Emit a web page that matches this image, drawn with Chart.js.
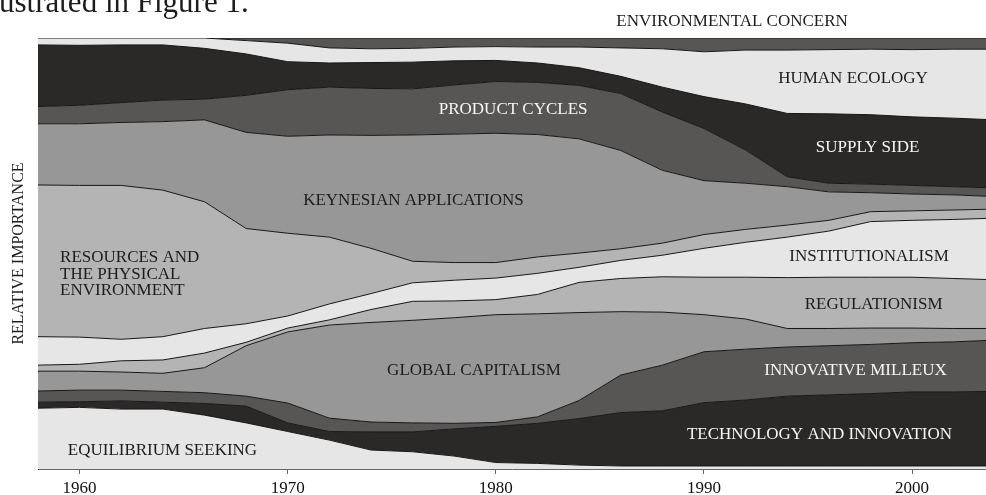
<!DOCTYPE html>
<html><head><meta charset="utf-8">
<script src="https://cdn.jsdelivr.net/npm/chart.js@4.4.1/dist/chart.umd.min.js"></script>
<style>
html,body{margin:0;padding:0;background:#fff;overflow:hidden}
#wrap{position:relative;width:986px;height:495px}
</style>
</head><body>
<div id="wrap"><canvas id="c" width="986" height="495"></canvas></div>
<script>
// ---------------- DATA (relative importance, % of total, bottom layer first) ----------------
const years = [1958,1960,1962,1964,1966,1968,1970,1972,1974,1976,1978,1980,1982,1984,1986,1988,1990,1992,1994,1996,1998,2000,2002,2004];

const equilibriumSeeking      = [14.1,14.3,13.9,13.9,12.5,10.7,8.7,6.7,4.4,4.0,3.0,1.5,1.3,0.9,0.7,0.7,0.7,0.7,0.7,0.7,0.7,0.7,0.7,0.7];
const technologyInnovation    = [1.4,1.3,1.9,1.6,2.7,3.9,2.0,2.0,4.2,4.6,6.3,8.4,9.3,10.8,12.4,12.8,14.7,15.3,16.2,16.5,16.8,17.2,17.2,17.3];
const innovativeMilieux       = [2.6,2.7,2.5,2.5,2.5,2.3,4.6,3.1,2.3,2.1,1.3,0.9,1.5,4.2,8.7,10.6,11.8,11.8,11.4,11.4,11.4,11.4,11.6,11.9];
const globalCapitalism        = [4.6,4.4,4.2,4.2,5.8,11.7,16.5,21.6,23.1,23.8,24.5,25.0,23.9,20.4,14.7,12.3,8.6,7.0,4.3,4.0,3.8,3.4,3.1,2.7];
const regulationism           = [1.4,1.6,2.6,3.1,3.4,0.8,0.9,1.2,3.0,4.4,3.9,3.5,4.5,7.0,7.7,8.2,8.7,9.7,11.8,11.9,11.8,11.8,11.6,11.3];
const institutionalism        = [6.6,6.3,5.0,5.4,5.7,4.3,2.8,3.7,3.7,4.3,4.8,5.0,4.9,3.5,4.2,5.0,6.7,8.1,9.4,10.7,12.9,13.2,13.7,14.3];
const resourcesPhysicalEnv    = [35.2,35.2,35.7,34.0,29.4,22.1,19.2,15.5,10.5,5.0,4.1,3.6,3.8,3.3,2.7,2.8,3.2,3.0,2.8,2.5,2.3,2.2,2.2,2.1];
const keynesianApplications   = [14.2,14.3,14.6,15.9,19.0,22.3,22.5,23.7,26.2,29.3,29.8,30.0,28.4,26.5,22.8,16.9,12.5,10.7,8.9,6.6,4.4,3.9,3.5,2.9];
const productCycles           = [4.0,4.3,4.6,5.0,4.8,8.6,10.8,11.1,10.9,10.7,11.4,12.0,12.1,12.4,13.2,13.5,12.1,7.7,2.3,2.0,2.0,2.0,1.9,2.0];
const supplySide              = [14.3,13.9,13.4,12.8,11.8,9.6,6.5,5.6,6.0,6.2,5.6,4.9,4.5,4.1,4.0,5.8,7.4,10.7,14.7,16.1,16.1,15.9,15.9,15.8];
const humanEcology            = [1.6,1.7,1.6,1.6,2.4,3.1,4.3,3.5,3.2,3.2,3.2,3.2,3.7,4.8,6.6,8.9,10.4,12.5,14.7,14.9,15.2,15.6,16.0,16.4];
const environmentalConcern    = [0,0,0,0,0,0.6,1.2,2.3,2.5,2.4,2.1,2.0,2.1,2.1,2.3,2.5,3.2,2.8,2.8,2.7,2.6,2.7,2.6,2.6];

const seriesNames = ['EQUILIBRIUM SEEKING','TECHNOLOGY AND INNOVATION','INNOVATIVE MILLEUX','GLOBAL CAPITALISM','REGULATIONISM','INSTITUTIONALISM','RESOURCES AND THE PHYSICAL ENVIRONMENT','KEYNESIAN APPLICATIONS','PRODUCT CYCLES','SUPPLY SIDE','HUMAN ECOLOGY','ENVIRONMENTAL CONCERN'];
const seriesValues = [equilibriumSeeking,technologyInnovation,innovativeMilieux,globalCapitalism,regulationism,institutionalism,resourcesPhysicalEnv,keynesianApplications,productCycles,supplySide,humanEcology,environmentalConcern];

const tickYears = [1960,1970,1980,1990,2000];
const tickLabels = ['1960','1970','1980','1990','2000'];
const yAxisTitle = 'RELATIVE IMPORTANCE';

// ---------------- STYLE ----------------
const LIGHT = '#e6e6e6', LGRAY = '#b4b4b4', MGRAY = '#979797', DGRAY = '#585655', BLACK = '#2b2828';
const fillColors = [LIGHT, BLACK, DGRAY, MGRAY, LGRAY, LIGHT, LGRAY, MGRAY, DGRAY, BLACK, LIGHT, DGRAY];

// label anchors (year, % position) and text colour
const areaLabels = [
  {lines:['HUMAN ECOLOGY'], year:1997.16, value:90.5, light:false},
  {lines:['SUPPLY SIDE'], year:1997.86, value:74.5, light:true},
  {lines:['PRODUCT CYCLES'], year:1980.83, value:83.5, light:true},
  {lines:['KEYNESIAN APPLICATIONS'], year:1976.04, value:62.2, light:false},
  {lines:['INSTITUTIONALISM'], year:1997.93, value:49.3, light:false},
  {lines:['REGULATIONISM'], year:1998.15, value:38.1, light:false},
  {lines:['INNOVATIVE MILLEUX'], year:1997.28, value:22.9, light:true},
  {lines:['TECHNOLOGY AND INNOVATION'], year:1995.55, value:8.1, light:true},
  {lines:['GLOBAL CAPITALISM'], year:1978.95, value:22.9, light:false},
  {lines:['EQUILIBRIUM SEEKING'], year:1963.98, value:4.4, light:false},
  {lines:['RESOURCES AND','THE PHYSICAL','ENVIRONMENT'], year:1959.06, value:49.1, light:false, align:'left'}
];

const SERIF = "'Liberation Serif','Times New Roman',serif";

const labelPlugin = {
  id: 'labels',
  afterDraw(chart) {
    const {ctx, chartArea, scales:{x, y}} = chart;
    ctx.save();
    ctx.font = '17px ' + SERIF;
    ctx.textBaseline = 'middle';
    for (const l of areaLabels) {
      ctx.fillStyle = l.light ? '#f6f6f6' : '#1c1c1c';
      ctx.textAlign = l.align || 'center';
      const px = x.getPixelForValue(l.year), py = y.getPixelForValue(l.value);
      l.lines.forEach((t, i) => ctx.fillText(t, px, py + i * 16.8));
    }
    // label of the top layer, above the plot
    ctx.fillStyle = '#1c1c1c';
    ctx.textAlign = 'center';
    ctx.fillText('ENVIRONMENTAL CONCERN', x.getPixelForValue(1991.35), chartArea.top - 16);
    // fragment of the surrounding document text (cut by the crop)
    ctx.font = '31px ' + SERIF;
    ctx.textAlign = 'left';
    ctx.textBaseline = 'alphabetic';
    ctx.fillText('ustrated in Figure 1.', -1, 11.7);
    ctx.restore();
  }
};

const datasets = seriesValues.map((vals, i) => ({
  label: seriesNames[i],
  data: vals.map((v, j) => ({x: years[j], y: v})),
  backgroundColor: fillColors[i],
  borderColor: '#161616',
  borderWidth: 1,
  pointRadius: 0,
  pointHoverRadius: 0,
  tension: 0,
  fill: i === 0 ? 'origin' : '-1'
}));

new Chart(document.getElementById('c'), {
  type: 'line',
  data: { datasets },
  plugins: [labelPlugin],
  options: {
    responsive: false,
    animation: false,
    events: [],
    layout: { padding: { top: 38, left: 0, right: 0, bottom: 0 } },
    plugins: { legend: { display: false }, tooltip: { enabled: false } },
    scales: {
      x: {
        type: 'linear',
        min: 1958, max: 2003.55,
        afterFit: s => { s.height = 26; },
        afterBuildTicks: s => { s.ticks = tickYears.map(v => ({value: v})); },
        ticks: {
          autoSkip: false, maxRotation: 0, padding: 4,
          color: '#111', font: { family: SERIF, size: 17 },
          callback: (v) => tickLabels[tickYears.indexOf(v)]
        },
        grid: { drawOnChartArea: false, drawTicks: true, tickLength: 5, color: '#666' },
        border: { display: true, color: '#666', width: 1 }
      },
      y: {
        stacked: true,
        min: 0, max: 100,
        afterFit: s => { s.width = 38; },
        ticks: { display: false },
        grid: { drawOnChartArea: false, drawTicks: false },
        border: { display: true, color: '#222', width: 1 },
        title: { display: true, text: yAxisTitle, color: '#1c1c1c', font: { family: SERIF, size: 16 }, padding: { top: 9.4, bottom: 0 } }
      }
    }
  }
});
</script>
</body></html>
